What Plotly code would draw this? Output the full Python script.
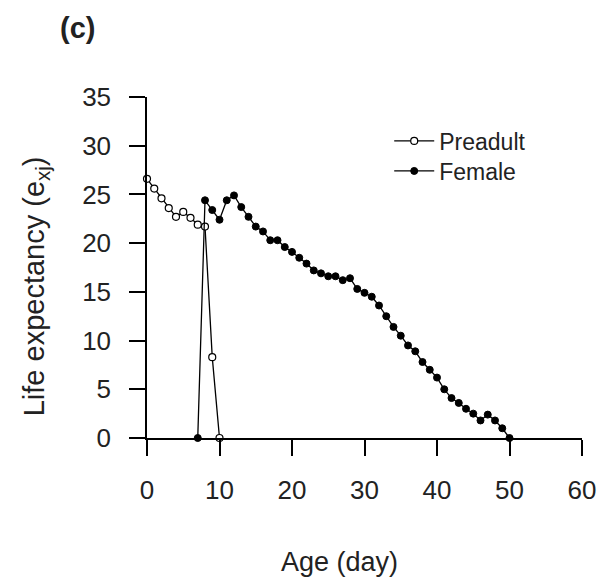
import plotly.graph_objects as go

preadult_age = [0, 1, 2, 3, 4, 5, 6, 7, 8, 9, 10]
preadult_ex = [26.6, 25.6, 24.6, 23.6, 22.7, 23.2, 22.6, 21.9, 21.7, 8.3, 0]

female_age = list(range(7, 51))
female_ex = [0, 24.4, 23.4, 22.4, 24.4, 24.9, 23.7, 22.7, 21.7, 21.2,
             20.3, 20.3, 19.6, 19.1, 18.5, 17.9, 17.2, 16.9, 16.6, 16.6,
             16.2, 16.4, 15.3, 14.9, 14.5, 13.6, 12.5, 11.4, 10.5, 9.5,
             8.9, 7.8, 7.0, 6.2, 5.0, 4.1, 3.6, 3.0, 2.5, 1.8,
             2.4, 1.8, 1.0, 0]

x_ticks = [0, 10, 20, 30, 40, 50, 60]
y_ticks = [0, 5, 10, 15, 20, 25, 30, 35]

FONT = "Arial, Liberation Sans, Helvetica, sans-serif"
TXT = "#222222"

W, H = 608, 577
L, R, T, B = 147, 21, 97, 139
PW, PH = W - L - R, H - T - B


def px_to_paper(px_x, px_y):
    return (px_x - L) / PW, (H - B - px_y) / PH


fig = go.Figure()
fig.add_trace(go.Scatter(
    x=preadult_age, y=preadult_ex, name="Preadult", mode="lines+markers",
    line=dict(color="black", width=1.3),
    marker=dict(symbol="circle", size=7, color="white",
                line=dict(color="black", width=1.2)),
    cliponaxis=False, legend="legend",
))
fig.add_trace(go.Scatter(
    x=female_age, y=female_ex, name="Female", mode="lines+markers",
    line=dict(color="black", width=1.3),
    marker=dict(symbol="circle", size=7, color="black",
                line=dict(color="black", width=1)),
    cliponaxis=False, legend="legend2",
))

ax_x, ax_y = px_to_paper(342, 562)
ay_x, ay_y = px_to_paper(35, 286)
c_x, c_y = px_to_paper(77, 28)
lg_x, lg1_y = px_to_paper(392, 141)
_, lg2_y = px_to_paper(392, 171)

legend_common = dict(xanchor="left", yanchor="middle", bgcolor="rgba(0,0,0,0)",
                     font=dict(size=23, color=TXT), itemwidth=40)

fig.update_layout(
    width=W, height=H,
    margin=dict(l=L, r=R, t=T, b=B),
    plot_bgcolor="white", paper_bgcolor="white",
    font=dict(family=FONT, size=26, color=TXT),
    showlegend=True,
    legend=dict(x=lg_x, y=lg1_y, **legend_common),
    legend2=dict(x=lg_x, y=lg2_y, **legend_common),
    xaxis=dict(range=[0, 60], tickvals=x_ticks, showgrid=False, zeroline=False,
               showline=True, linecolor="black", linewidth=1.5,
               ticks="outside", ticklen=16, tickwidth=1.5, tickcolor="black",
               ticklabelstandoff=12, tickfont=dict(size=26, color=TXT)),
    yaxis=dict(range=[0, 35], tickvals=y_ticks, showgrid=False, zeroline=False,
               showline=True, linecolor="black", linewidth=1.5,
               ticks="outside", ticklen=16, tickwidth=1.5, tickcolor="black",
               ticklabelstandoff=13, tickfont=dict(size=26, color=TXT)),
    annotations=[
        dict(text="Age (day)", xref="paper", yref="paper", x=ax_x, y=ax_y,
             showarrow=False, xanchor="center", yanchor="middle",
             font=dict(size=27, color=TXT)),
        dict(text="Life expectancy (e<sub>xj</sub>)", xref="paper", yref="paper",
             x=ay_x, y=ay_y, textangle=-90,
             showarrow=False, xanchor="center", yanchor="middle",
             font=dict(size=29, color=TXT)),
        dict(text="<b>(c)</b>", xref="paper", yref="paper", x=c_x, y=c_y,
             showarrow=False, xanchor="center", yanchor="middle",
             font=dict(size=29, color=TXT)),
    ],
)

fig.write_html("out.html")
